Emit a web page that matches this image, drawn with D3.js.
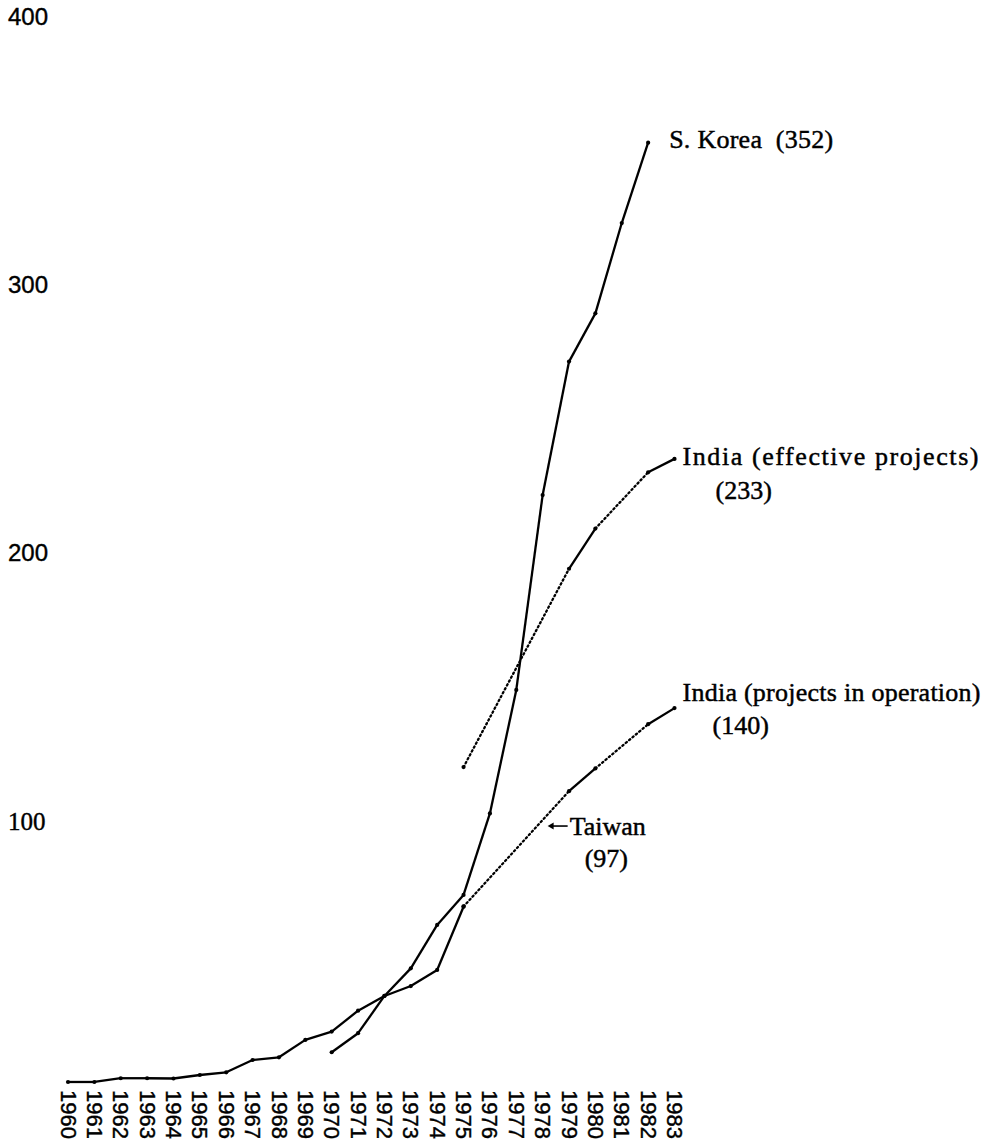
<!DOCTYPE html>
<html><head><meta charset="utf-8">
<script src="https://cdn.jsdelivr.net/npm/d3@7"></script>
<style>html,body{margin:0;padding:0;background:#fff;} svg{display:block;}</style>
</head><body><svg id="chart" width="986" height="1148"></svg>
<script>
// ---- data ----
const yearLabels = [1960,1961,1962,1963,1964,1965,1966,1967,1968,1969,1970,1971,1972,1973,1974,1975,1976,1977,1978,1979,1980,1981,1982,1983];
const yTickValues = [100,200,300,400];

const taiwanYears  = [1960,1961,1962,1963,1964,1965,1966,1967,1968,1969,1970,1971,1972,1973,1974,1975];
const taiwanValues = [1.5,1.5,2.9,2.9,2.8,4.1,5.1,9.7,10.7,17.2,20.3,28.1,33.6,37.3,43.3,66.9];

const koreaYears  = [1970,1971,1972,1973,1974,1975,1976,1977,1978,1979,1980,1981,1982];
const koreaValues = [12.6,19.7,33.6,43.9,60.1,71.3,101.7,147.8,220.5,270.3,288.3,322,352];

const indiaEffYears  = [1975,1979,1980,1982,1983];
const indiaEffValues = [119,193,208,229,234];

const indiaOpYears  = [1975,1979,1980,1982,1983];
const indiaOpValues = [67,110,118.5,135,141];

const taiwanNote = {year:1978, value:97};

// ---- scales ----
const svg = d3.select("#chart");
const x = d3.scaleLinear().domain([1960,1983]).range([68,674.5]);
const y = d3.scaleLinear().domain([0,400]).range([1086,14]);

const serif = "'Liberation Serif','Times New Roman',serif";
const sans = "'Liberation Sans',Arial,sans-serif";

// ---- axes ----
const yAxis = svg.append("g").call(d3.axisLeft(y).tickValues(yTickValues).tickSize(0));
yAxis.select(".domain").remove();
yAxis.selectAll("text")
  .attr("x", 8).attr("dy", "0.35em").attr("text-anchor","start")
  .attr("fill","#000").attr("stroke","#000").attr("stroke-width",0.4)
  .style("font-family", d => d === 100 ? serif : sans)
  .style("font-size", d => d === 100 ? "25px" : "24px");
yAxis.selectAll(".tick").attr("transform", d => `translate(0,${y(d)+3})`);

const xAxis = svg.append("g").attr("transform","translate(0,1090)")
  .call(d3.axisBottom(x).tickValues(yearLabels).tickFormat(d3.format("d")).tickSize(0));
xAxis.select(".domain").remove();
xAxis.selectAll("text")
  .attr("transform","rotate(90)").attr("x",0).attr("y",0).attr("dy","0.36em")
  .attr("text-anchor","start").attr("fill","#000").attr("stroke","#000").attr("stroke-width",0.4)
  .style("font-family", sans).style("font-size","22px");

// ---- lines ----
function drawSeries(years, values){
  const pts = years.map((yr,i)=>({yr, v:values[i]}));
  const line = d3.line().x(d=>x(d.yr)).y(d=>y(d.v));
  for(let i=0;i<pts.length-1;i++){
    const a=pts[i], b=pts[i+1];
    const dotted = (b.yr - a.yr) > 1;
    svg.append("path").attr("d", line([a,b]))
      .attr("fill","none").attr("stroke","#000")
      .attr("stroke-width", dotted ? 2.3 : 2.3)
      .attr("stroke-dasharray", dotted ? "1.4 3" : null)
      .attr("stroke-linecap", dotted ? "round" : "butt");
  }
  svg.selectAll(null).data(pts).enter().append("circle")
    .attr("cx", d=>x(d.yr)).attr("cy", d=>y(d.v)).attr("r", 2.1).attr("fill","#000");
}
drawSeries(taiwanYears, taiwanValues);
drawSeries(koreaYears, koreaValues);
drawSeries(indiaEffYears, indiaEffValues);
drawSeries(indiaOpYears, indiaOpValues);

// ---- annotations ----
function label(txt, px, py, len){
  const t = svg.append("text").attr("x",px).attr("y",py).text(txt)
    .style("font-family",serif).style("font-size","26px").style("white-space","pre")
    .attr("fill","#000").attr("stroke","#000").attr("stroke-width",0.45);
  if(len) t.attr("textLength",len).attr("lengthAdjust","spacing");
}
label("S. Korea  (352)", x(1982)+21, y(352)+5, 164);
label("India (effective projects)", x(1983)+8, y(234)+6, 296);
label("(233)", x(1983)+41, y(234)+40);
label("India (projects in operation)", x(1983)+8, y(141)-7, 298);
label("(140)", x(1983)+38, y(141)+26);
label("Taiwan", x(taiwanNote.year)+27, y(taiwanNote.value)+9);
label("(97)", x(taiwanNote.year)+42, y(taiwanNote.value)+41);
// arrow
const ax0 = x(taiwanNote.year)+25, ax1 = x(taiwanNote.year)+5, ay = y(taiwanNote.value);
svg.append("line").attr("x1",ax0).attr("x2",ax1+4).attr("y1",ay).attr("y2",ay).attr("stroke","#000").attr("stroke-width",1.6);
svg.append("path").attr("d",`M${ax1},${ay} L${ax1+6},${ay-3.5} L${ax1+6},${ay+3.5} Z`).attr("fill","#000");
</script>
</body></html>
